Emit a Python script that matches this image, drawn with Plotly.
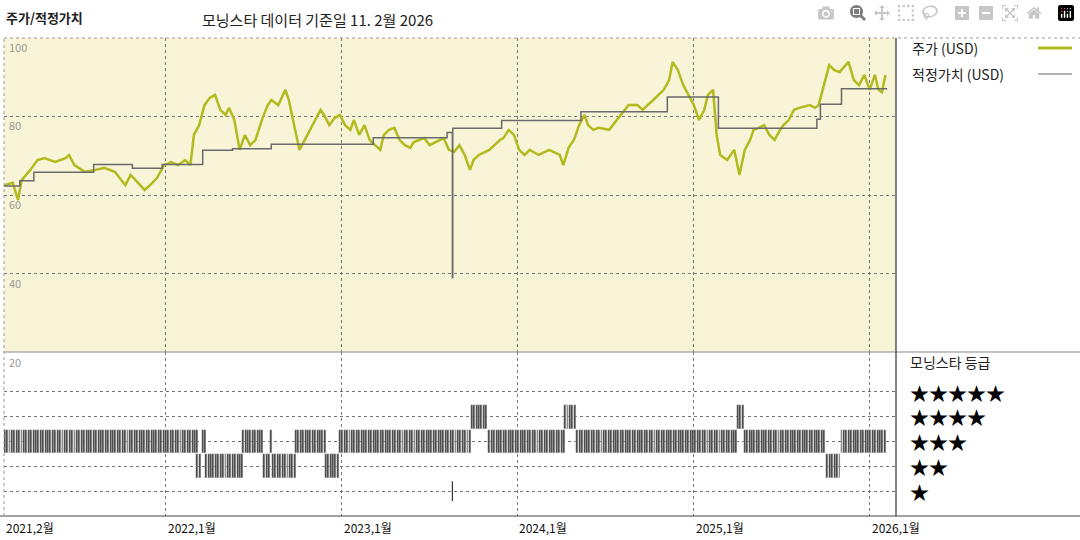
import plotly.graph_objects as go
from datetime import datetime, timedelta

# decimal-year dates and prices (USD)
price_t = [2021.08,2021.13,2021.16,2021.18,2021.23,2021.27,2021.31,2021.37,2021.43,2021.45,2021.48,2021.54,2021.60,2021.65,2021.71,2021.74,2021.77,2021.80,2021.84,2021.88,2021.91,2021.95,2021.99,
 2022.03,2022.07,2022.11,2022.14,2022.16,2022.19,2022.22,2022.25,2022.28,2022.31,2022.34,2022.36,2022.39,2022.42,2022.45,2022.48,2022.51,2022.55,2022.58,2022.60,2022.64,2022.68,2022.70,2022.73,2022.76,2022.79,2022.82,2022.85,2022.88,2022.90,2022.93,2022.96,2022.99,
 2023.02,2023.05,2023.07,2023.10,2023.13,2023.16,2023.19,2023.22,2023.24,2023.27,2023.30,2023.33,2023.36,2023.39,2023.41,2023.44,2023.47,2023.50,2023.56,2023.58,2023.61,2023.64,2023.67,2023.70,2023.73,2023.75,2023.78,2023.84,2023.90,2023.92,2023.95,2023.98,
 2024.01,2024.04,2024.07,2024.12,2024.18,2024.24,2024.26,2024.29,2024.32,2024.35,2024.38,2024.40,2024.43,2024.46,2024.52,2024.54,2024.57,2024.60,2024.63,2024.68,2024.71,2024.77,2024.80,2024.83,2024.86,2024.88,2024.91,2024.94,2024.97,
 2025.00,2025.03,2025.06,2025.08,2025.11,2025.13,2025.15,2025.19,2025.23,2025.26,2025.29,2025.32,2025.34,2025.37,2025.40,2025.43,2025.46,2025.49,2025.51,2025.54,2025.57,2025.60,2025.66,2025.69,2025.71,2025.74,2025.77,2025.80,2025.83,2025.85,2025.88,2025.91,2025.94,2025.97,
 2026.00,2026.03,2026.05,2026.07,2026.09]
price_v = [62.5,63.1,58.7,63.8,66.4,68.9,69.4,68.4,69.4,70.2,67.6,65.9,66.4,66.9,65.9,64.3,62.5,65.1,63.1,61.3,62.5,64.3,67.6,
 68.4,67.6,68.9,67.6,75.3,77.8,82.9,84.7,85.5,81.7,80.4,82.2,79.1,71.5,75.3,72.7,74.0,79.6,82.9,84.2,82.9,86.8,84.2,77.8,71.5,74.0,76.6,79.1,81.7,80.4,77.8,79.6,80.4,
 77.8,76.6,79.1,75.3,77.8,74.0,72.7,71.5,75.3,76.6,77.1,74.0,72.7,72.0,73.5,74.0,74.5,72.7,74.0,74.5,71.5,71.0,72.7,70.2,66.4,68.9,70.2,71.5,74.0,74.5,76.6,75.3,
 71.5,70.2,71.5,70.2,71.5,70.2,67.6,72.0,74.0,77.8,80.4,77.8,76.6,77.1,76.6,77.8,79.6,81.1,82.9,82.9,81.7,84.2,85.5,86.8,89.3,93.9,91.8,88.0,85.5,
 82.9,79.1,81.7,85.5,86.8,75.3,70.2,68.9,71.5,65.1,71.5,74.0,76.6,77.1,77.8,75.3,74.0,76.6,77.8,79.1,81.7,82.2,82.9,82.2,82.9,88.0,93.1,91.8,91.3,92.4,93.9,89.3,88.0,90.6,
 86.8,90.6,86.8,86.2,90.6]

fair_t = [2021.08,2021.17,2021.25,2021.59,2021.81,2021.98,2022.21,2022.38,2022.60,2023.18,2023.60,2023.63,2023.632,2023.91,2024.36,2024.85,2025.14,2025.70,2025.72,2025.84,2026.10]
fair_v = [62.3,63.6,65.8,67.8,66.8,67.8,71.4,71.8,72.9,74.6,75.9,38.9,77.0,79.0,81.2,85.0,77.0,79.3,83.1,87.1,87.1]

# Morningstar rating periods: (start, end, stars)
rating_periods = [
 (2021.07,2022.18,3),(2022.18,2022.20,2),(2022.21,2022.23,3),(2022.23,2022.44,2),(2022.44,2022.56,3),(2022.56,2022.60,2),
 (2022.60,2022.61,3),(2022.61,2022.74,2),(2022.74,2022.91,3),(2022.91,2022.99,2),(2022.99,2023.74,3),(2023.74,2023.83,4),
 (2023.84,2024.27,3),(2024.27,2024.33,4),(2024.34,2025.25,3),(2025.25,2025.29,4),(2025.29,2025.75,3),(2025.76,2025.84,2),
 (2025.84,2026.10,3)]
one_star_tick = [2023.63]

x_labels = ["2021,2월","2022,1월","2023,1월","2024,1월","2025,1월","2026,1월"]
x_label_t = [2021.08,2022.0,2023.0,2024.0,2025.0,2026.0]
y_labels = ["100","80","60","40"]

def dy(t):
    y = int(t); start = datetime(y,1,1); end = datetime(y+1,1,1)
    return start + (end-start)*(t-y)

PRICE_C = "#b2ba1e"
FAIR_C = "#6a6a6a"

fig = go.Figure()
fig.add_trace(go.Scatter(x=[dy(t) for t in price_t], y=price_v, mode="lines",
    line=dict(color=PRICE_C, width=2.5), xaxis="x", yaxis="y", showlegend=False))
fig.add_trace(go.Scatter(x=[dy(t) for t in fair_t], y=fair_v, mode="lines", line_shape="hv",
    line=dict(color=FAIR_C, width=1.5), xaxis="x", yaxis="y", showlegend=False))

bx, by, bb = [], [], []
for s, e, st in rating_periods:
    d = dy(s); de = dy(e)
    while d <= de:
        bx.append(d); by.append(0.96); bb.append(st-0.48)
        d += timedelta(days=5)
fig.add_trace(go.Bar(x=bx, y=by, base=bb, width=4*86400000, marker=dict(color="#3a3a3a", line=dict(color="#dddddd", width=0.4)),
    xaxis="x2", yaxis="y2", showlegend=False))
for t in one_star_tick:
    fig.add_trace(go.Scatter(x=[dy(t),dy(t)], y=[0.6,1.4], mode="lines", line=dict(color="#333", width=1.2),
        xaxis="x2", yaxis="y2", showlegend=False))

xr = [dy(2021.08), dy(2026.15)]
grid = dict(showgrid=True, gridcolor="#777", griddash="dot", gridwidth=1)
fig.update_layout(
    width=1080, height=540, margin=dict(l=0,r=0,t=0,b=0), paper_bgcolor="white", plot_bgcolor="white",
    font=dict(family="Noto Sans CJK KR", color="#222"), bargap=0,
    xaxis=dict(domain=[4/1080, 896/1080], range=xr, type="date", showticklabels=False, anchor="y",
               tickvals=[dy(t) for t in x_label_t[1:]], zeroline=False, **grid),
    yaxis=dict(domain=[1-352/540, 1-38/540], range=[20,100], showticklabels=False, tickvals=[40,60,80], zeroline=False, **grid),
    xaxis2=dict(domain=[4/1080, 896/1080], range=xr, type="date", showticklabels=False, anchor="y2",
               tickvals=[dy(t) for t in x_label_t[1:]], zeroline=False, **grid),
    yaxis2=dict(domain=[1-516/540, 1-352/540], range=[0,6.6], showticklabels=False, tickvals=[1,2,3,4,5], zeroline=False, **grid),
)

shapes = [
    dict(type="rect", xref="x", yref="y", x0=xr[0], x1=xr[1], y0=20, y1=100, fillcolor="#f8f4d7", line_width=0, layer="below"),
    dict(type="line", xref="paper", yref="paper", x0=4/1080, x1=1, y0=1-38/540, y1=1-38/540, line=dict(color="#999", width=1, dash="dot")),
    dict(type="line", xref="paper", yref="paper", x0=4/1080, x1=1, y0=1-352/540, y1=1-352/540, line=dict(color="#888", width=1)),
    dict(type="line", xref="paper", yref="paper", x0=0, x1=1, y0=1-516/540, y1=1-516/540, line=dict(color="#444", width=1.2)),
    dict(type="line", xref="paper", yref="paper", x0=896/1080, x1=896/1080, y0=1-516/540, y1=1-38/540, line=dict(color="#333", width=1.2)),
    dict(type="line", xref="paper", yref="paper", x0=4/1080, x1=4/1080, y0=1-516/540, y1=1-38/540, line=dict(color="#999", width=1, dash="dot")),
    dict(type="line", xref="paper", yref="paper", x0=1038/1080, x1=1072/1080, y0=1-48/540, y1=1-48/540, line=dict(color=PRICE_C, width=3)),
    dict(type="line", xref="paper", yref="paper", x0=1038/1080, x1=1072/1080, y0=1-74/540, y1=1-74/540, line=dict(color=FAIR_C, width=1.2)),
]
fig.update_layout(shapes=shapes)

ann = []
def A(text, x, y, size=13, color="#222", xanchor="left", yanchor="middle"):
    ann.append(dict(text=text, x=x/1080, y=1-y/540, xref="paper", yref="paper", showarrow=False,
                    xanchor=xanchor, yanchor=yanchor, font=dict(size=size, color=color)))
A("<b>주가/적정가치</b>", 4, 18, 13)
A("모닝스타 데이터 기준일 11. 2월 2026", 200, 20, 15)
for lab, yy in zip(y_labels, [47, 125, 204, 283]):
    A(lab, 7, yy, 11, "#999")
A("20", 7, 362, 11, "#999")
A("주가 (USD)", 910, 48, 14)
A("적정가치 (USD)", 910, 74, 14)
A("모닝스타 등급", 908, 362, 14)
for n, yy in zip([5,4,3,2,1], [392,416,441,466,491]):
    A("★"*n, 908, yy, 19, "#000")
for lab, t in zip(x_labels, x_label_t):
    ann.append(dict(text=lab, x=dy(t), y=1-527/540, xref="x2", yref="paper", showarrow=False,
                    xanchor="left", yanchor="middle", font=dict(size=12, color="#111")))
fig.update_layout(annotations=ann)
fig.write_html("out.html")

with open("out.html", encoding="utf-8") as f:
    html = f.read()
html = html.replace("<head>", "<head><style>html,body{margin:0;padding:0;overflow:hidden}</style>", 1)
with open("out.html", "w", encoding="utf-8") as f:
    f.write(html)
